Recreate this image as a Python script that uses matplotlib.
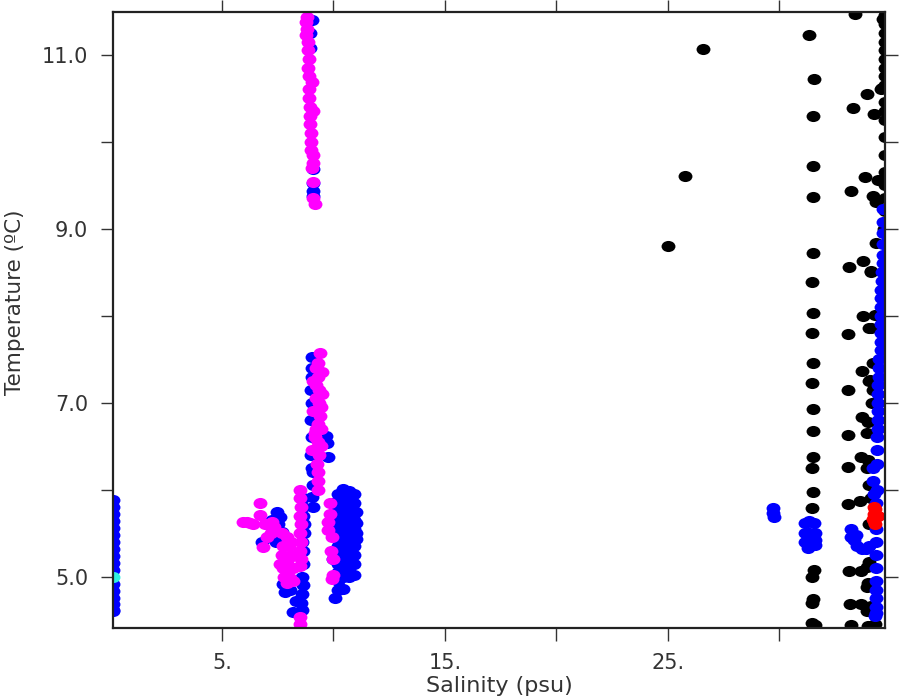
import matplotlib
matplotlib.use("Agg")
import matplotlib.pyplot as plt
from matplotlib.path import Path
import numpy as np

# ---- data (salinity in psu, temperature in degC) ----

# black: offshore stations (isolated points + two loose columns)
black_sal = [25.0, 25.76, 26.57,
             31.35, 31.55, 31.5, 31.5, 31.5, 31.5, 31.45, 31.5, 31.45, 31.5, 31.45, 31.5,
             31.5, 31.5, 31.45, 31.5, 31.45, 31.55, 31.45, 31.5, 31.45, 31.45, 31.6,
             33.38, 33.92, 33.30, 34.24, 33.83, 33.21, 34.19, 33.74, 33.12, 34.10, 33.74,
             34.01, 33.07, 33.70, 34.01, 33.07, 33.70, 33.07, 33.66, 33.07, 33.92, 33.61,
             33.07, 33.12, 33.66, 33.95, 33.95, 33.16, 33.66, 33.95, 33.21, 33.97,
             34.60, 34.42, 34.65, 34.33]
black_temp = [8.80, 9.61, 11.06,
              11.22, 10.72, 10.29, 9.72, 9.36, 8.72, 8.39, 8.03, 7.80, 7.45, 7.22, 6.93,
              6.67, 6.38, 6.25, 5.97, 5.79, 5.08, 5.00, 4.74, 4.70, 4.47, 4.44,
              11.47, 10.55, 10.39, 10.32, 9.59, 9.43, 9.38, 8.63, 8.56, 8.51, 7.99,
              7.86, 7.79, 7.36, 7.25, 7.14, 6.83, 6.63, 6.37, 6.26, 6.25, 5.87,
              5.83, 5.06, 5.06, 5.11, 4.88, 4.69, 4.69, 4.60, 4.44, 4.43,
              10.62, 9.56, 11.41, 9.31]

# black: dense column hugging the high-salinity edge
black_edge_sal = [34.74, 34.74, 34.73, 34.74, 34.73, 34.55, 34.74, 34.73, 34.74, 34.73,
                  34.74, 34.73, 34.74, 34.73, 34.70, 34.36, 34.14, 34.30, 34.10, 34.20,
                  34.06, 34.20, 34.15, 34.00, 33.95, 34.00, 34.05, 34.00, 34.10, 34.30,
                  34.05, 34.10, 34.05, 34.74, 34.74, 34.74, 34.74, 34.74]
black_edge_temp = [11.45, 11.25, 11.05, 10.85, 10.65, 10.60, 10.45, 10.25, 10.05, 9.85,
                   9.65, 9.50, 9.35, 9.20, 9.00, 8.84, 8.50, 8.01, 7.86, 7.46,
                   7.26, 7.15, 7.00, 6.78, 6.65, 6.34, 5.17, 4.93, 4.66, 4.45,
                   5.60, 5.90, 6.05, 11.35, 11.15, 10.95, 10.75, 10.35]

# blue: fresh-water column at the low-salinity edge
blue_left_sal = [0.12, 0.12, 0.12, 0.12, 0.12, 0.12, 0.12, 0.12, 0.12, 0.12,
                 0.12, 0.12, 0.12, 0.12, 0.12, 0.12, 0.12]
blue_left_temp = [5.88, 5.80, 5.72, 5.64, 5.56, 5.48, 5.40, 5.32, 5.24, 5.16,
                  5.08, 4.92, 4.84, 4.76, 4.68, 4.62, 4.60]

# blue: brackish stations (hidden partly under magenta)
blue_mid_sal = [9.04, 8.95, 8.95, 9.08, 9.08, 9.08, 9.10,
                9.03, 9.02, 9.02, 9.00, 9.02, 9.00, 9.02, 9.00, 9.05, 9.71, 9.75, 9.65,
                9.10, 9.10, 9.08, 9.05,
                7.47, 7.60, 7.50, 7.30, 7.69, 7.10, 6.79, 7.40, 7.55, 7.25,
                7.82, 7.75, 8.05,
                8.65, 8.65, 8.70, 8.65, 8.65, 8.60, 8.65, 8.60, 8.55, 8.60, 8.19, 8.30,
                8.65, 8.70, 8.60]
blue_mid_temp = [11.40, 11.25, 11.08, 9.68, 9.52, 9.43, 9.37,
                 7.52, 7.40, 7.30, 7.15, 7.00, 6.80, 6.60, 6.40, 6.25, 6.54, 6.37, 6.62,
                 6.20, 6.05, 5.80, 5.92,
                 5.74, 5.68, 5.60, 5.55, 5.51, 5.45, 5.40, 5.40, 5.45, 5.65,
                 4.82, 4.91, 4.85,
                 5.90, 5.70, 5.50, 5.30, 5.15, 5.00, 4.90, 4.80, 4.70, 4.62, 4.59, 4.72,
                 5.80, 5.60, 5.40]

# blue: block of stations around 10-11 psu
blue_block_sal = [10.20, 10.20, 10.20, 10.20, 10.20, 10.20, 10.20, 10.20, 10.20, 10.20, 10.20, 10.20,
                  10.45, 10.45, 10.45, 10.45, 10.45, 10.45, 10.45, 10.45, 10.45, 10.45, 10.45, 10.45,
                  10.70, 10.70, 10.70, 10.70, 10.70, 10.70, 10.70, 10.70, 10.70, 10.70, 10.70,
                  10.90, 10.90, 10.90, 10.90, 10.90, 10.90, 10.90, 10.90, 10.90, 10.90,
                  11.00, 11.00, 11.00, 11.00,
                  10.05, 10.00, 10.00, 9.95]
blue_block_temp = [5.95, 5.85, 5.75, 5.65, 5.55, 5.45, 5.35, 5.25, 5.15, 5.05, 4.95, 4.85,
                   6.01, 5.90, 5.80, 5.70, 5.60, 5.50, 5.40, 5.30, 5.20, 5.10, 5.00, 4.86,
                   5.98, 5.90, 5.80, 5.70, 5.60, 5.50, 5.40, 5.30, 5.20, 5.10, 5.00,
                   5.95, 5.85, 5.75, 5.65, 5.55, 5.45, 5.35, 5.25, 5.15, 5.02,
                   5.74, 5.62, 5.50, 5.43,
                   4.76, 5.50, 5.20, 5.85]

# blue: high-salinity clusters
blue_east_sal = [29.71, 29.71, 29.75,
                 31.15, 31.35, 31.55, 31.15, 31.35, 31.60, 31.15, 31.35, 31.60, 31.30, 31.60,
                 33.20, 33.20, 33.35, 33.50, 33.70, 33.90, 34.05, 33.45]
blue_east_temp = [5.79, 5.73, 5.69,
                  5.62, 5.64, 5.62, 5.50, 5.50, 5.50, 5.40, 5.42, 5.42, 5.33, 5.36,
                  5.55, 5.45, 5.42, 5.35, 5.32, 5.32, 5.35, 5.48]

# blue: dense column at the high-salinity edge
blue_edge_sal = [34.65, 34.65, 34.65, 34.65, 34.65, 34.65, 34.62, 34.60,
                 34.55, 34.55, 34.55, 34.55, 34.55, 34.55, 34.55, 34.55, 34.50, 34.50,
                 34.50, 34.45, 34.45, 34.45, 34.45, 34.45, 34.45, 34.40, 34.40, 34.20,
                 34.20, 34.25, 34.40, 34.40, 34.35, 34.35, 34.35, 34.35, 34.35, 34.35,
                 34.35, 34.35, 34.35, 34.35, 34.35, 34.30]
blue_edge_temp = [9.23, 9.08, 8.95, 8.82, 8.70, 8.60, 8.50, 8.40,
                  8.30, 8.20, 8.10, 8.00, 7.90, 7.80, 7.70, 7.60, 7.50, 7.40,
                  7.30, 7.20, 7.10, 7.00, 6.90, 6.80, 6.70, 6.60, 6.45, 6.25,
                  6.10, 5.95, 6.30, 6.00, 5.85, 5.70, 5.55, 5.40, 5.25, 5.10,
                  4.95, 4.85, 4.75, 4.65, 4.58, 4.55]

# magenta: brackish stations, second survey
magenta_sal = [8.80, 8.75, 8.80, 8.75, 8.85, 8.85, 8.90, 8.85, 8.90, 8.90, 8.90, 8.95, 8.95,
               8.95, 9.00, 9.00, 9.00, 9.10, 9.10, 9.05, 9.08, 9.10, 9.15, 9.05, 9.10,
               9.40, 9.30, 9.20, 9.30, 9.20, 9.35, 9.20, 9.35, 9.25, 9.40, 9.30, 9.20,
               9.15, 9.30, 9.45, 9.35, 9.20, 9.25, 9.30, 9.30, 9.30,
               9.50, 9.50, 9.45, 9.10, 9.10, 9.15, 9.45, 9.05,
               5.94, 6.10, 6.40, 6.70, 6.70, 6.95, 7.24, 7.35, 7.20, 7.02, 6.84, 6.25,
               7.70, 7.90, 7.75, 8.00, 7.70, 7.95, 8.10, 7.75, 8.00, 7.80, 8.05, 7.90, 8.10,
               8.20, 8.20, 7.60,
               8.50, 8.50, 8.55, 8.50, 8.55, 8.50, 8.55, 8.50, 8.55, 8.50, 8.50, 8.50,
               9.84, 9.76, 9.76, 9.93, 9.98, 9.98, 9.95, 9.90, 9.85]
magenta_temp = [11.43, 11.38, 11.30, 11.22, 11.15, 11.05, 10.95, 10.85, 10.75, 10.60, 10.50,
                10.40, 10.30, 10.20, 10.10, 10.00, 9.90, 9.85, 9.75, 9.70, 9.54, 9.35, 9.28,
                10.68, 10.35,
                7.57, 7.45, 7.40, 7.30, 7.20, 7.15, 7.05, 7.00, 6.90, 6.85, 6.75, 6.70,
                6.60, 6.55, 6.50, 6.40, 6.45, 6.30, 6.20, 6.10, 6.00,
                7.35, 7.10, 6.95, 7.25, 6.90, 6.65, 6.70, 6.45,
                5.63, 5.63, 5.60, 5.85, 5.71, 5.60, 5.63, 5.57, 5.50, 5.46, 5.34, 5.62,
                5.50, 5.45, 5.35, 5.35, 5.25, 5.20, 5.25, 5.10, 5.10, 5.00, 4.98, 4.93, 5.40,
                5.10, 4.95, 5.15,
                6.00, 5.90, 5.80, 5.70, 5.60, 5.50, 5.40, 5.30, 5.20, 5.12, 4.54, 4.46,
                5.85, 5.63, 5.54, 5.45, 5.20, 5.02, 4.97, 5.30, 5.72]

red_sal = [34.25, 34.30, 34.25, 34.30, 34.25, 34.30, 34.35, 34.20, 34.42]
red_temp = [5.80, 5.78, 5.72, 5.68, 5.64, 5.60, 5.70, 5.66, 5.70]

cyan_sal = [0.12]
cyan_temp = [5.00]

# ---- plot ----
plt.rcParams['font.family'] = ['DejaVu Sans']
text_color = '#333333'

fig = plt.figure(figsize=(9, 7), dpi=100)
ax = fig.add_axes([0.1256, 0.1029, 0.8578, 0.88])

# slightly flattened dot, like the original plotting package
circ = Path.unit_circle()
dot = Path(circ.vertices * np.array([1.0, 0.8]), circ.codes)
size = 100

blue_sal = blue_left_sal + blue_mid_sal + blue_block_sal + blue_east_sal + blue_edge_sal
blue_temp = blue_left_temp + blue_mid_temp + blue_block_temp + blue_east_temp + blue_edge_temp

ax.scatter(black_sal + black_edge_sal, black_temp + black_edge_temp,
           s=size, marker=dot, color='black', linewidths=0)
ax.scatter(blue_sal, blue_temp, s=size, marker=dot, color='#0000ff', linewidths=0)
ax.scatter(magenta_sal, magenta_temp, s=size, marker=dot, color='#ff00ff', linewidths=0)
ax.scatter(red_sal, red_temp, s=size, marker=dot, color='#ff0000', linewidths=0)
ax.scatter(cyan_sal, cyan_temp, s=size, marker=dot, color='#30f0e0', linewidths=0)

ax.set_xlim(0.11, 34.75)
ax.set_ylim(4.41, 11.49)

xt = [5, 10, 15, 20, 25, 30]
ax.set_xticks(xt)
ax.set_xticklabels(['5.', '', '15.', '', '25.', ''])
yt = [5, 6, 7, 8, 9, 10, 11]
ax.set_yticks(yt)
ax.set_yticklabels(['5.0', '', '7.0', '', '9.0', '', '11.0'])

ax.tick_params(direction='out', length=9, width=1.0, color='#333333',
               labelsize=15, labelcolor=text_color, pad=9,
               top=True, right=True)
for sp in ax.spines.values():
    sp.set_linewidth(1.6)
    sp.set_color('#222222')

ax.set_xlabel('Salinity (psu)', fontsize=16, color=text_color)
ax.xaxis.set_label_coords(0.5, -0.078)
ax.set_ylabel('Temperature (ºC)', fontsize=15.5, color=text_color)
ax.yaxis.set_label_coords(-0.114, 0.528)

fig.savefig('out.png', dpi=100)
